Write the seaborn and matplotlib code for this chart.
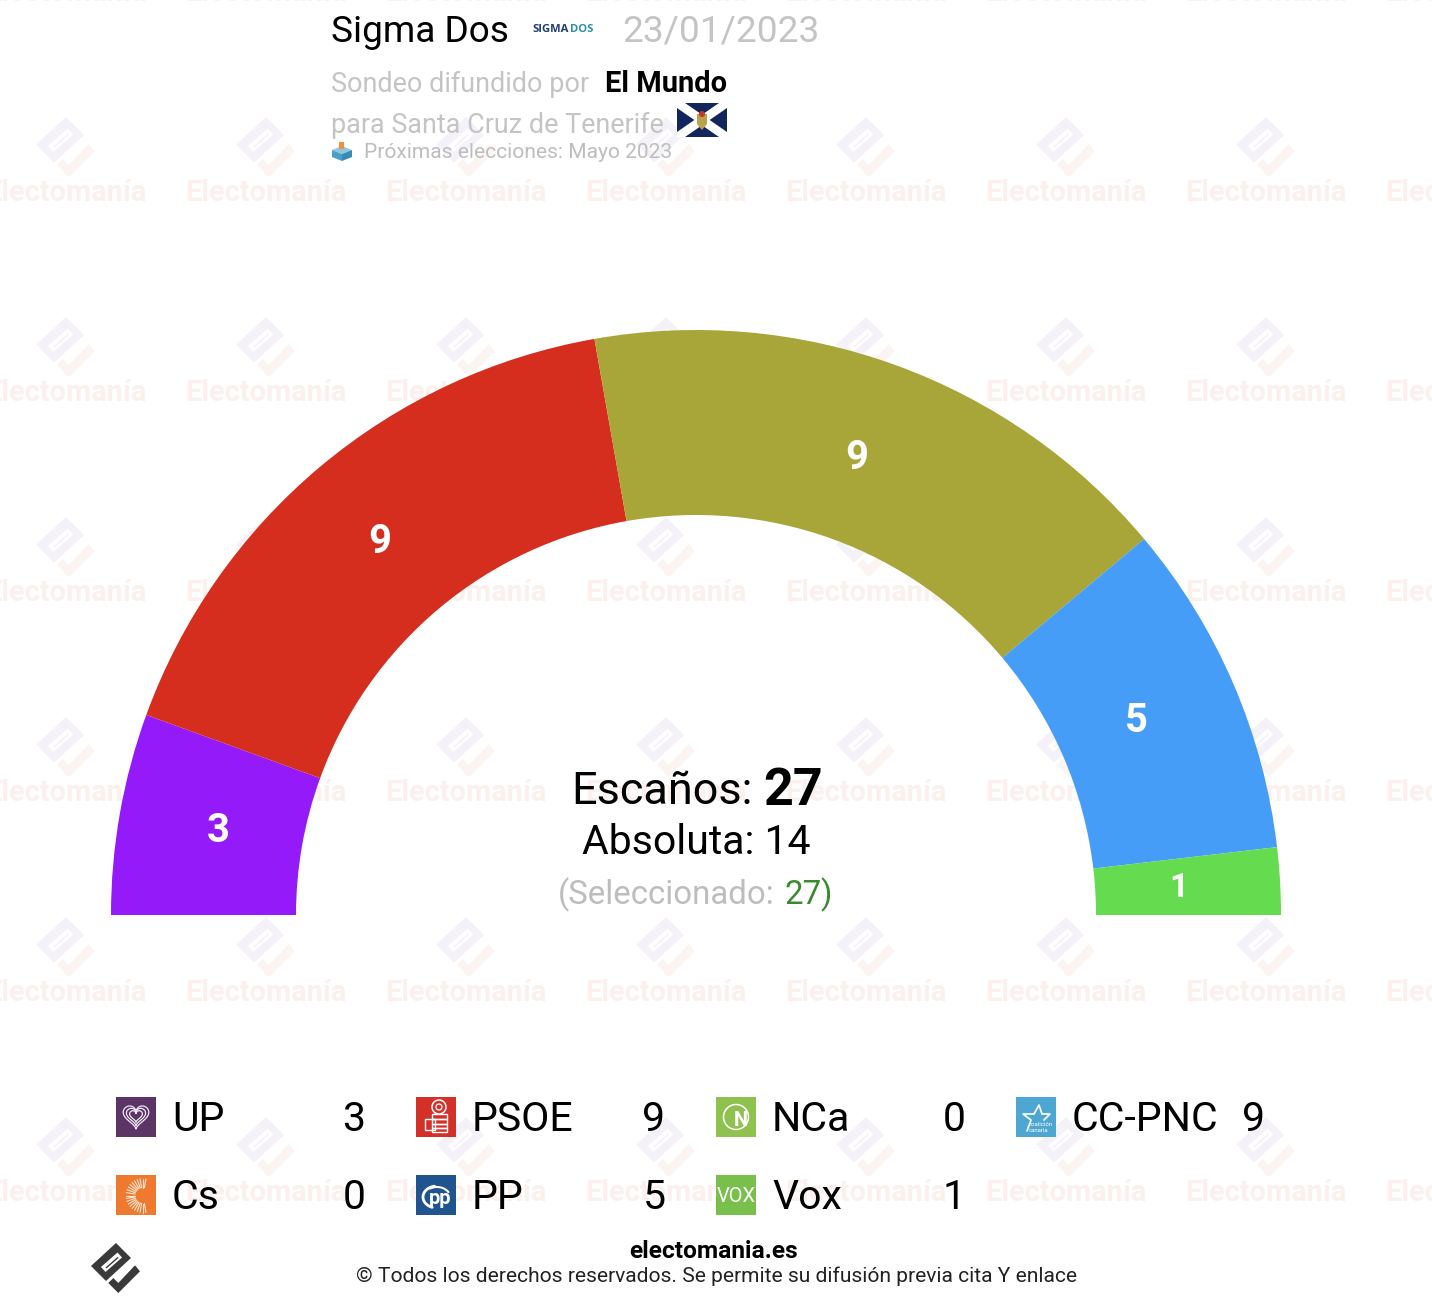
import matplotlib

matplotlib.use("Agg")
import matplotlib.pyplot as plt
import numpy as np
import pandas as pd
import seaborn as sns
from matplotlib.patches import Circle, Polygon, Rectangle

# Arc data, left to right
arc_parties = ["UP", "PSOE", "CC-PNC", "PP", "Vox"]
arc_seats = [3, 9, 9, 5, 1]
arc_colors = ["#941AFA", "#D52E1F", "#A8A539", "#469DF8", "#65DB4F"]

# Legend data, row by row
legend_parties = ["UP", "PSOE", "NCa", "CC-PNC", "Cs", "PP", "Vox"]
legend_seats = [3, 9, 0, 9, 0, 5, 1]
legend_colors = ["#5B3566", "#D3302A", "#8FC14F", "#4DA7D2", "#EF7A2F", "#20548F", "#78BF4B"]

total_seats = 27
majority = 14
selected = 27

WIDTH, HEIGHT = 1432, 1306
PX = 0.72  # css px to points at dpi 100
FONT = "Roboto"

sns.set_theme(style="white")
plt.rcParams["font.family"] = [FONT, "DejaVu Sans"]

fig = plt.figure(figsize=(WIDTH / 100, HEIGHT / 100), dpi=100)
ax = fig.add_axes([0, 0, 1, 1])


def label(x, y, s, size, color="black", weight="normal", ha="left", va="baseline", family=FONT, z=4):
    return ax.text(x, y, s, fontsize=size * PX, color=color, fontweight=weight, ha=ha, va=va, family=family, zorder=z)


def poly(points, color, z=4, dx=0, dy=0, scale=1):
    pts = np.array(points, dtype=float) * scale + [dx, dy]
    ax.add_patch(Polygon(pts, closed=True, facecolor=color, edgecolor="none", linewidth=0, zorder=z))


LOGO_BODY = [(0, -25), (15, -10), (-10, 13), (-25, -2)]
LOGO_SLOT = [(-15, -1), (-10.5, 4), (6, -10.5), (1.5, -15.5)]
LOGO_BAR = [(-10.5, -0.5), (-9.5, 0.5), (2.5, -10), (1.5, -11)]
LOGO_CHECK = [(-7.7, 15), (-2.7, 10), (2.3, 15), (19, -2.7), (24, 3.3), (2.3, 25)]


def logo(cx, cy, scale, body, check, z):
    poly(LOGO_BODY, body, z, cx, cy, scale)
    poly(LOGO_SLOT, "white", z, cx, cy, scale)
    poly(LOGO_BAR, body, z, cx, cy, scale)
    poly(LOGO_CHECK, check, z, cx, cy, scale)


# Watermark grid
for col in range(8):
    for row in range(-1, 6):
        wx, wy = 66 + 200 * col, 147 + 200 * row
        logo(wx, wy, 1.2, "#F5F1F8", "#FBF4F0", 0.5)
        ax.text(wx, wy + 46, "Electomanía", fontsize=29 * PX, fontweight="bold", color="#FBF0EC",
                ha="center", va="center", zorder=0.5)

# Half donut
values = np.array(arc_seats) / (2 * sum(arc_seats))
wedges, texts = ax.pie(
    values,
    colors=arc_colors,
    labels=arc_seats,
    labeldistance=490 / 585,
    normalize=False,
    startangle=180,
    counterclock=True,
    center=(696, 915),
    radius=585,
    frame=True,
    wedgeprops={"width": 185, "linewidth": 0, "zorder": 2},
)
# the reference labels sit a little off the mid radius
nudge_x = [5, -1, -7, -10, -6]
nudge_y = [1, 2, 3, 0, 1]
for txt, size, nx, ny in zip(texts, [40, 40, 40, 40, 33], nudge_x, nudge_y):
    txt.set(ha="center", va="center", color="white", fontweight="bold", fontsize=size * PX, zorder=4)
    txt.set_position((txt.get_position()[0] + nx, txt.get_position()[1] + ny))

# Legend swatches
swatch_x = [116 + 300 * (i % 4) + 20 for i in range(len(legend_parties))]
swatch_y = [1117 + 78 * (i // 4) for i in range(len(legend_parties))]
legend_df = pd.DataFrame({"party": legend_parties, "x": swatch_x, "y": swatch_y})
sns.scatterplot(
    data=legend_df, x="x", y="y", hue="party", hue_order=legend_parties,
    palette=legend_colors, marker="s", s=(40 * PX) ** 2, linewidth=0, legend=False, zorder=3, ax=ax,
)
for party, seats, sx, sy in zip(legend_parties, legend_seats, swatch_x, swatch_y):
    label(sx + 36, sy + 14, party, 41)
    label(sx + 218, sy + 14, str(seats), 41, ha="center")

# UP heart
t = np.linspace(0, 2 * np.pi, 80)
hx, hy = 16 * np.sin(t) ** 3, 13 * np.cos(t) - 5 * np.cos(2 * t) - 2 * np.cos(3 * t) - np.cos(4 * t)
for s in [0.8, 0.6, 0.4]:
    ax.plot(136 + hx * s, 1115.5 - hy * s, color="#EFE6F2", lw=0.9, zorder=5)

# PSOE fist and rose
ax.add_patch(Circle((439, 1107), 7, fill=False, ec="white", lw=1.1, zorder=5))
ax.add_patch(Circle((439, 1107), 3, fill=False, ec="white", lw=0.9, zorder=5))
for rx, ry, rw, rh in [(432, 1114, 15, 5), (432, 1119, 15, 5), (432, 1124, 15, 4), (432, 1128, 15, 4), (425, 1119, 10, 11)]:
    ax.add_patch(Rectangle((rx, ry), rw, rh, fill=False, ec="white", lw=1, zorder=5))

# NCa circle
ax.add_patch(Circle((736, 1117), 12.5, fill=False, ec="white", lw=1.1, zorder=5))
label(740.5, 1120, "N", 20, "white", "bold", ha="center", va="center", z=6)

# CC star
star_x = [1027, 1031, 1023, 1034, 1039, 1042, 1050, 1044]
star_y = [1131, 1120, 1114, 1114, 1105, 1114, 1114, 1120]
ax.plot(star_x, star_y, color="white", lw=1.2, zorder=5)
label(1029, 1125, "coalición", 6, "white", va="center", z=6)
label(1029, 1130, "canaria", 6, "white", va="center", z=6)

# Cs sunburst
for ang in np.radians(np.arange(80, 285, 10)):
    ax.plot([143 + 8 * np.cos(ang), 143 + 17 * np.cos(ang)], [1195.5 - 8 * np.sin(ang), 1195.5 - 17 * np.sin(ang)],
            color="#FBE7D6", lw=0.8, zorder=5)

# PP and Vox marks
label(440, 1198, "pp", 20, "white", "bold", ha="center", va="center", z=6)
arc_t = np.radians(np.linspace(100, 250, 30))
ax.plot(437 + 14 * np.cos(arc_t), 1197 - 11 * np.sin(arc_t), color="white", lw=2, zorder=5)
arc_t = np.radians(np.linspace(35, 120, 20))
ax.plot(437 + 14 * np.cos(arc_t), 1199 - 12 * np.sin(arc_t), color="white", lw=1.5, zorder=5)
label(736, 1196, "VOX", 20, "white", "normal", ha="center", va="center", z=6)

# Header
label(331, 42, "Sigma Dos", 37)
label(532, 32, "SIGMA", 11.3, "#1F3F7A", "bold", family="Open Sans")
label(570, 32, "DOS", 11.3, "#2E8FB0", "bold", family="Open Sans")
label(622, 42, "23/01/2023", 37, "#C4C4C4")
label(331, 92, "Sondeo difundido por", 27, "#C4C4C4")
label(605, 92, "El Mundo", 29, "black", "bold")
label(331, 133, "para Santa Cruz de Tenerife", 27, "#C4C4C4")
label(364, 158, "Próximas elecciones: Mayo 2023", 21, "#BDBDBD")

# Tenerife flag
ax.add_patch(Rectangle((677, 103), 50, 34, facecolor="#12255C", edgecolor="none", zorder=4))
poly([(677, 103), (685, 103), (727, 132), (727, 137), (719, 137), (677, 108)], "white", 5)
poly([(727, 103), (719, 103), (677, 132), (677, 137), (685, 137), (727, 108)], "white", 5)
poly([(697, 114), (707, 114), (707, 124), (702, 130), (697, 124)], "#B9A24A", 6)
ax.add_patch(Circle((702, 114), 3, facecolor="#C0392B", edgecolor="none", zorder=6))

# Ballot box
poly([(332, 150), (342, 146), (352, 150), (342, 154)], "#8CC6E2", 5)
poly([(332, 150), (342, 154), (342, 161), (332, 157)], "#4A9FC8", 5)
poly([(352, 150), (342, 154), (342, 161), (352, 157)], "#3A8BB5", 5)
ax.add_patch(Rectangle((339, 142), 5, 7, facecolor="#F0913A", edgecolor="none", zorder=6))

# Centre text
label(571, 804, "Escaños:", 45)
label(763, 805, str(total_seats), 52, weight="bold")
label(696, 854, f"Absoluta: {majority}", 41, ha="center")
label(558, 904, "(Seleccionado:", 33, "#BDBDBD")
label(784, 904, str(selected), 33, "#3A8A2E")
label(820, 904, ")", 33, "#3A8A2E")

# Footer
logo(116, 1268, 1.0, "#3A3A3A", "#3A3A3A", 4)
label(714, 1258, "electomania.es", 24.5, weight="bold", ha="center")
label(716, 1282, "© Todos los derechos reservados. Se permite su difusión previa cita Y enlace", 21, "#222222", ha="center")

ax.set_xlim(0, WIDTH)
ax.set_ylim(HEIGHT, 0)
ax.set_aspect("auto")
ax.set_xlabel("")
ax.set_ylabel("")
ax.axis("off")

fig.savefig("out.png", dpi=100)
